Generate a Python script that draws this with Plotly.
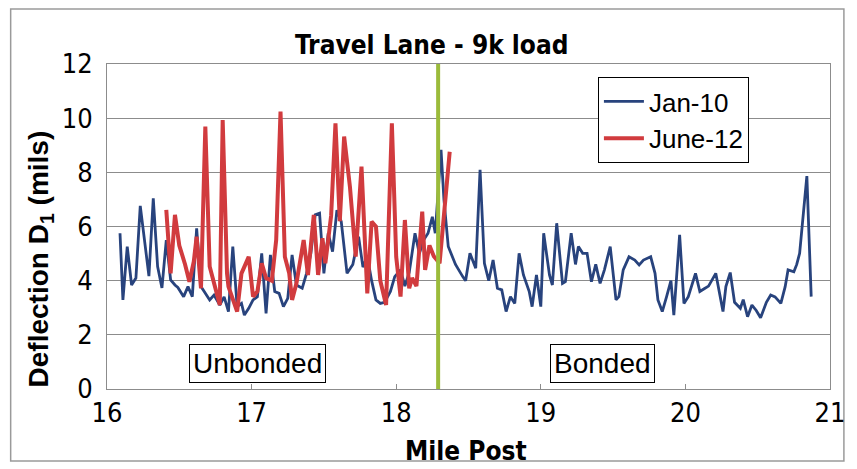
import plotly.graph_objects as go

# Falling-weight deflection readings along the travel lane (9 kip load)
jan10_mile = [
    16.09, 16.11, 16.14, 16.17, 16.20, 16.23, 16.29, 16.32, 16.35, 16.38,
    16.41, 16.44, 16.47, 16.49, 16.53, 16.56, 16.59, 16.62, 16.65, 16.68,
    16.71, 16.74, 16.78, 16.81, 16.84, 16.87, 16.90, 16.93, 16.95, 16.98,
    17.01, 17.04, 17.07, 17.10, 17.13, 17.16, 17.19, 17.22, 17.25, 17.28,
    17.31, 17.35, 17.38, 17.41, 17.44, 17.47, 17.50, 17.53, 17.56, 17.59,
    17.62, 17.66, 17.70, 17.74, 17.77, 17.80, 17.83, 17.86, 17.89, 17.92,
    17.96, 17.99, 18.03, 18.06, 18.09, 18.13, 18.16, 18.19, 18.22, 18.25,
    18.27, 18.31, 18.33, 18.36, 18.41, 18.46, 18.48, 18.51, 18.55, 18.58,
    18.61, 18.64, 18.67, 18.70, 18.73, 18.76, 18.79, 18.82, 18.85, 18.88,
    18.92, 18.94, 18.97, 19.00, 19.02, 19.06, 19.08, 19.11, 19.15, 19.17,
    19.21, 19.24, 19.26, 19.29, 19.32, 19.35, 19.38, 19.41, 19.44, 19.48,
    19.52, 19.54, 19.57, 19.61, 19.65, 19.68, 19.71, 19.76, 19.79, 19.81,
    19.84, 19.87, 19.90, 19.92, 19.96, 19.99, 20.02, 20.07, 20.10, 20.13,
    20.16, 20.21, 20.26, 20.28, 20.31, 20.34, 20.38, 20.40, 20.43, 20.46,
    20.49, 20.52, 20.56, 20.59, 20.62, 20.66, 20.69, 20.71, 20.75, 20.77,
    20.79, 20.84, 20.87,
]
jan10_defl = [
    5.75, 3.29, 5.26, 3.84, 4.10, 6.76, 4.17, 7.04, 4.52, 3.73,
    5.50, 4.03, 3.84, 3.75, 3.41, 3.78, 3.41, 5.93, 3.78, 3.53,
    3.29, 3.47, 3.10, 3.40, 2.86, 5.26, 3.04, 3.16, 2.73, 2.98,
    3.29, 3.41, 5.01, 2.79, 4.95, 3.60, 3.53, 3.04, 3.35, 4.95,
    3.84, 3.72, 4.27, 5.01, 6.43, 6.49, 4.27, 5.75, 5.07, 6.60,
    6.18, 4.27, 4.60, 5.62, 4.50, 4.90, 4.00, 3.29, 3.16, 3.20,
    3.60, 4.15, 4.40, 3.80, 4.30, 5.75, 5.00, 5.50, 5.75, 6.36,
    5.75, 8.83, 7.00, 5.26, 4.60, 4.15, 4.00, 5.01, 4.46, 8.09,
    4.64, 4.00, 4.76, 3.72, 3.66, 2.86, 3.41, 3.16, 5.01, 4.21,
    3.60, 3.04, 4.21, 3.04, 5.75, 4.21, 3.84, 6.12, 3.90, 3.96,
    5.75, 4.60, 5.26, 5.01, 5.01, 3.96, 4.60, 3.90, 4.40, 5.26,
    3.29, 3.41, 4.40, 4.88, 4.76, 4.58, 4.76, 4.88, 4.27, 3.29,
    2.86, 3.41, 4.00, 2.73, 5.69, 3.16, 3.41, 4.27, 3.60, 3.70,
    3.80, 4.27, 2.86, 3.78, 4.30, 3.20, 2.98, 3.30, 2.67, 3.10,
    2.90, 2.63, 3.20, 3.47, 3.40, 3.16, 3.78, 4.40, 4.33, 4.60,
    5.01, 7.86, 3.41,
]

june12_mile = [
    16.41, 16.44, 16.47, 16.50, 16.54, 16.57, 16.60, 16.62, 16.65, 16.68,
    16.71, 16.74, 16.78, 16.80, 16.83, 16.84, 16.90, 16.93, 16.96, 16.98,
    17.01, 17.04, 17.07, 17.10, 17.14, 17.17, 17.20, 17.23, 17.26, 17.28,
    17.31, 17.33, 17.36, 17.39, 17.43, 17.46, 17.49, 17.51, 17.55, 17.58,
    17.61, 17.64, 17.68, 17.72, 17.76, 17.80, 17.83, 17.86, 17.89, 17.93,
    17.97, 18.00, 18.03, 18.06, 18.09, 18.11, 18.14, 18.18, 18.20, 18.23,
    18.26, 18.30, 18.33, 18.37,
]
june12_defl = [
    6.61, 4.27, 6.43, 5.30, 4.60, 3.96, 4.70, 5.62, 3.72, 9.69,
    4.52, 3.90, 3.10, 9.93, 4.27, 3.78, 2.86, 4.27, 4.60, 4.88,
    3.41, 3.60, 4.64, 4.10, 4.00, 5.50, 10.24, 4.88, 4.27, 3.29,
    3.90, 4.64, 5.50, 4.21, 6.43, 4.21, 5.57, 4.64, 6.40, 9.81,
    6.20, 9.32, 7.47, 4.89, 8.21, 3.53, 6.18, 6.00, 4.00, 3.10,
    9.81, 4.88, 3.41, 6.24, 3.72, 4.10, 3.80, 6.55, 4.40, 5.30,
    4.90, 4.64, 6.60, 8.76,
]

# Transition between unbonded and bonded sections
section_break = 18.29
section_labels = ["Unbonded", "Bonded"]
section_label_x = [17.04, 19.43]

narrow = "DejaVu Sans Condensed, Liberation Sans Narrow, Arial Narrow, sans-serif"
regular = "Liberation Sans, Arial, sans-serif"

fig = go.Figure()
fig.add_trace(go.Scatter(
    x=jan10_mile, y=jan10_defl, mode="lines", name="Jan-10",
    line=dict(color="#28437D", width=2.8),
))
fig.add_trace(go.Scatter(
    x=june12_mile, y=june12_defl, mode="lines", name="June-12",
    line=dict(color="#D13B3E", width=4),
))

fig.add_shape(type="line", xref="x", yref="paper",
              x0=section_break, x1=section_break, y0=0, y1=1,
              line=dict(color="#9BBB3B", width=4), layer="above")

for label, lx in zip(section_labels, section_label_x):
    fig.add_annotation(x=lx, y=0.96, xref="x", yref="y", text=label,
                       showarrow=False, font=dict(family=regular, size=28, color="black"),
                       bgcolor="white", bordercolor="black", borderwidth=1,
                       borderpad=3)

# Chart titles
fig.add_annotation(text="<b>Travel Lane - 9k load</b>", xref="paper", yref="paper",
                   x=0.449, y=1.058, showarrow=False, yanchor="middle",
                   font=dict(family=narrow, size=26, color="black"))
fig.add_annotation(text="<b>Mile Post</b>", xref="paper", yref="paper",
                   x=0.496, y=-0.19, showarrow=False, yanchor="middle",
                   font=dict(family=narrow, size=26, color="black"))
fig.add_annotation(text="<b>Deflection D<sub>1</sub> (mils)</b>", xref="paper", yref="paper",
                   x=-0.092, y=0.40, showarrow=False, textangle=-90,
                   xanchor="center", yanchor="middle",
                   font=dict(family=regular, size=28, color="black"))

# Outer chart frame
fig.add_shape(type="rect", xref="paper", yref="paper",
              x0=(10 - 107) / 728, x1=(849 - 107) / 728,
              y0=(389 - 461) / 325, y1=(389 - 9) / 325,
              line=dict(color="#9A9A9A", width=1.5), layer="below")

fig.update_layout(
    width=857, height=469,
    margin=dict(l=107, r=22, t=64, b=80),
    paper_bgcolor="white", plot_bgcolor="white",
    showlegend=True,
    legend=dict(x=0.679, y=0.96, xanchor="left", yanchor="top",
                bgcolor="white", bordercolor="black", borderwidth=1,
                font=dict(family=regular, size=26, color="black"),
                itemwidth=40, tracegroupgap=0),
)
fig.update_xaxes(range=[16, 21], dtick=1, tick0=16, showgrid=False,
                 showline=True, linecolor="#8C8C8C", linewidth=1, mirror=True,
                 ticks="inside", ticklen=5, tickcolor="#8C8C8C",
                 tickfont=dict(family=narrow, size=27, color="black"),
                 zeroline=False)
fig.update_yaxes(range=[0, 12], dtick=2, tick0=0, showgrid=True,
                 gridcolor="#8C8C8C", gridwidth=1,
                 showline=True, linecolor="#8C8C8C", linewidth=1, mirror=True,
                 ticks="", ticklabelstandoff=8,
                 tickfont=dict(family=narrow, size=27, color="black"),
                 zeroline=False)

fig.write_html("out.html")
